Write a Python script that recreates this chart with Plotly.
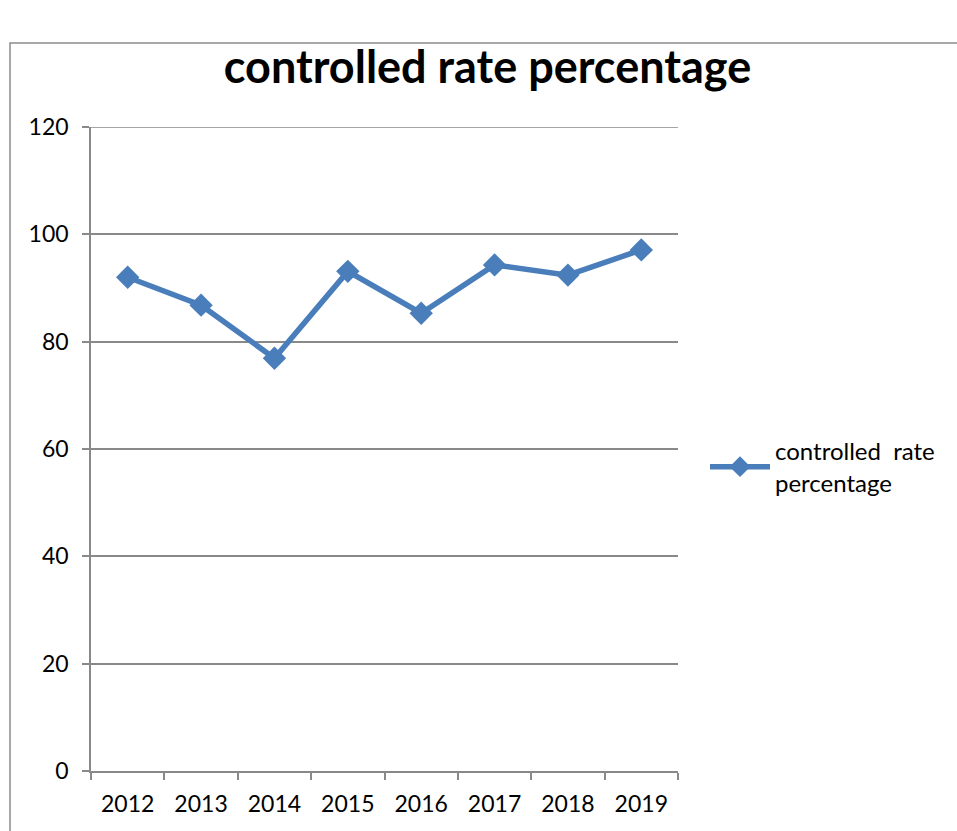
import plotly.graph_objects as go

years = ["2012", "2013", "2014", "2015", "2016", "2017", "2018", "2019"]
rates = [92.0, 86.8, 76.9, 93.1, 85.3, 94.3, 92.4, 97.1]
series_name = "controlled  rate<br>percentage"
title_text = "controlled rate percentage"
y_ticks = [0, 20, 40, 60, 80, 100, 120]

FONT = "Lato, Calibri, Carlito, sans-serif"
BLUE = "#4A7EBB"
GRID = "#898989"

fig = go.Figure()
fig.add_trace(go.Scatter(
    x=years, y=rates, mode="lines+markers", name=series_name,
    line=dict(color=BLUE, width=5.5),
    marker=dict(symbol="diamond", size=18, color=BLUE),
))

L, R, T, B = 91, 957 - 678, 127, 60
W, H = 957, 831
pw, ph = W - L - R, H - T - B

def px_x(p):
    return (p - L) / pw

def px_y(p):
    return (H - B - p) / ph

fig.update_layout(
    width=W, height=H,
    margin=dict(l=L, r=R, t=T, b=B),
    paper_bgcolor="white", plot_bgcolor="white",
    font=dict(family=FONT, size=23, color="black"),
    title=dict(text="<b>" + title_text + "</b>", x=(225 + 750) / 2 / W, xanchor="center",
               y=1 - 67 / H, yanchor="middle", yref="container",
               font=dict(family=FONT, size=45, color="black")),
    showlegend=True,
    legend=dict(x=px_x(705), xanchor="left", y=px_y(467), yanchor="middle",
                font=dict(family=FONT, size=24, color="black"),
                bgcolor="rgba(0,0,0,0)", itemwidth=60),
    xaxis=dict(type="category", range=[-0.5, 7.5], showgrid=False,
               showline=True, linecolor=GRID, linewidth=1.5,
               ticks="outside", tickson="boundaries", ticklen=7, tickcolor=GRID, tickwidth=1.5,
               ticklabelstandoff=12,
               tickfont=dict(family=FONT, size=23, color="black"), fixedrange=True),
    yaxis=dict(range=[0, max(y_ticks)], tickvals=y_ticks, showgrid=True, gridcolor=GRID, gridwidth=1.5,
               showline=True, linecolor=GRID, linewidth=1.5, zeroline=False,
               ticks="outside", ticklen=7, tickcolor=GRID, tickwidth=1.5,
               ticklabelstandoff=9,
               tickfont=dict(family=FONT, size=23, color="black"), fixedrange=True),
    shapes=[
        dict(type="rect", xref="paper", yref="paper",
             x0=px_x(10), x1=px_x(965), y0=px_y(840), y1=px_y(43),
             line=dict(color="#8C8C8C", width=1.5), fillcolor="rgba(0,0,0,0)", layer="below"),
        dict(type="line", xref="paper", yref="y", x0=0, x1=1,
             y0=max(y_ticks), y1=max(y_ticks), line=dict(color=GRID, width=1.5), layer="below"),
    ],
)

fig.write_html("out.html")
